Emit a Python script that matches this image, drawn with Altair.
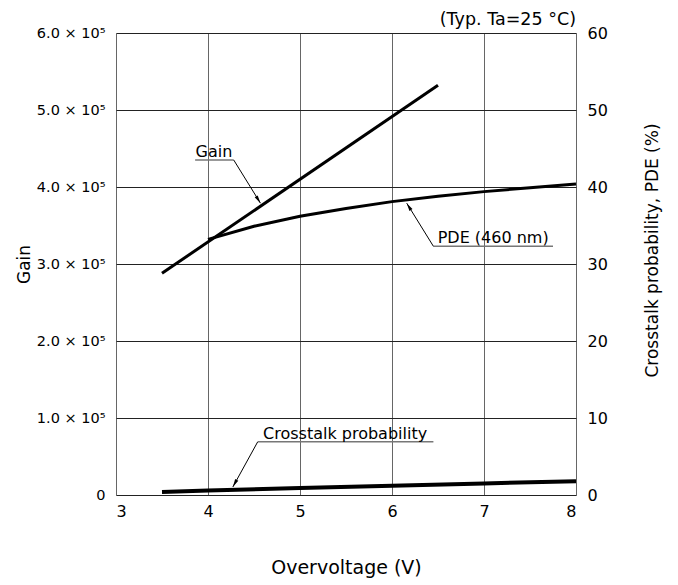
import math
import altair as alt
import pandas as pd

# ---- data ----
gain_v = [3.5, 6.5]
gain_vals = [2.88e5, 5.32e5]

pde_v = [4.0, 4.5, 5.0, 5.5, 6.0, 6.5, 7.0, 7.5, 8.0]
pde_vals = [33.2, 34.9, 36.2, 37.2, 38.1, 38.8, 39.4, 39.9, 40.4]

ct_v = [3.5, 4.0, 5.0, 6.0, 7.0, 8.0]
ct_vals = [0.4, 0.6, 0.9, 1.2, 1.5, 1.8]

# annotations (in data units: x = overvoltage, y = right-axis %)
ann_labels = ["Gain", "PDE (460 nm)", "Crosstalk probability"]
ann_tx = [4.065, 7.10, 5.49]
ann_ty = [43.9, 32.7, 7.3]
ann_ux1 = [3.86, 6.45, 4.54]
ann_ux2 = [4.28, 7.75, 6.45]
ann_uy = [43.5, 32.3, 6.9]
ann_sx = [4.28, 6.45, 4.54]
ann_sy = [43.5, 32.3, 6.9]
ann_tipx = [4.57, 6.16, 4.27]
ann_tipy = [37.9, 37.9, 1.04]

W, H = 460, 462
X_DOM = [3, 8]
YR_DOM = [0, 60]
YL_DOM = [0, 6e5]
FONT = "DejaVu Sans"

px_x = W / (X_DOM[1] - X_DOM[0])
px_y = H / (YR_DOM[1] - YR_DOM[0])
angles = []
for sx, sy, tx, ty in zip(ann_sx, ann_sy, ann_tipx, ann_tipy):
    dx = (tx - sx) * px_x
    dy = (ty - sy) * px_y
    angles.append(math.degrees(math.atan2(dx, dy)) % 360)

gain_df = pd.DataFrame({"v": gain_v, "y": gain_vals})
pde_df = pd.DataFrame({"v": pde_v, "y": pde_vals})
ct_df = pd.DataFrame({"v": ct_v, "y": ct_vals})
ann_df = pd.DataFrame({
    "label": ann_labels, "tx": ann_tx, "ty": ann_ty,
    "ux1": ann_ux1, "ux2": ann_ux2, "uy": ann_uy,
    "sx": ann_sx, "sy": ann_sy, "tipx": ann_tipx, "tipy": ann_tipy,
    "angle": angles,
})

x_axis = alt.Axis(
    values=[3, 4, 5, 6, 7, 8], format="d", title="Overvoltage (V)", grid=True,
    gridColor="#666666", gridWidth=1, ticks=False, domain=False,
    labelFont=FONT, labelFontSize=16, labelColor="#000", labelPadding=8,
    titleFont=FONT, titleFontSize=19, titleFontWeight="normal", titleColor="#000",
    titleBaseline="middle", titleY=72,
)
xs = alt.Scale(domain=X_DOM, nice=False, zero=False)
x_enc = alt.X("v:Q", scale=xs, axis=x_axis)

left_axis = alt.Axis(
    values=[0, 1e5, 2e5, 3e5, 4e5, 5e5, 6e5], orient="left",
    labelExpr="datum.value == 0 ? '0' : format(datum.value / 100000, '.1f') + ' × 10⁵'",
    grid=True, gridColor="#222222", gridWidth=1, ticks=False, domain=False,
    labelFont=FONT, labelFontSize=14.5, labelColor="#000", labelPadding=11,
    title="Gain", titleFont=FONT, titleFontSize=17, titleFontWeight="normal",
    titleColor="#000", titleBaseline="middle", titleX=-92, titleAngle=270,
)

RT = "Crosstalk probability, PDE (%)"
right_axis = alt.Axis(
    values=[0, 10, 20, 30, 40, 50, 60], orient="right", grid=False, ticks=False,
    domain=False, labelFont=FONT, labelFontSize=16, labelColor="#000", labelPadding=11,
    title=RT, titleFont=FONT, titleFontSize=17,
    titleFontWeight="normal", titleColor="#000", titleBaseline="middle",
    titleX=76, titleY=217, titleAngle=270,
)
yr_scale = alt.Scale(domain=YR_DOM, nice=False)

gain_line = alt.Chart(gain_df).mark_line(color="black", strokeWidth=3).encode(
    x=x_enc,
    y=alt.Y("y:Q", scale=alt.Scale(domain=YL_DOM, nice=False), axis=left_axis),
)

yr = alt.Y("y:Q", scale=yr_scale, axis=right_axis, title=RT)

pde_line = alt.Chart(pde_df).mark_line(color="black", strokeWidth=3).encode(x=x_enc, y=yr)
ct_line = alt.Chart(ct_df).mark_line(color="black", strokeWidth=4).encode(x=x_enc, y=yr)

base_ann = alt.Chart(ann_df)
ann_text = base_ann.mark_text(
    font=FONT, fontSize=16, color="black", align="center", baseline="alphabetic"
).encode(
    x=alt.X("tx:Q", scale=xs),
    y=alt.Y("ty:Q", scale=yr_scale, axis=right_axis, title=RT),
    text="label:N",
)
ann_under = base_ann.mark_rule(color="#777777", strokeWidth=1.5).encode(
    x=alt.X("ux1:Q", scale=xs),
    x2="ux2:Q",
    y=alt.Y("uy:Q", scale=yr_scale, axis=right_axis, title=RT),
)
ann_leader = base_ann.mark_rule(color="black", strokeWidth=1).encode(
    x=alt.X("sx:Q", scale=xs),
    x2="tipx:Q",
    y=alt.Y("sy:Q", scale=yr_scale, axis=right_axis, title=RT),
    y2="tipy:Q",
)
ann_head = base_ann.mark_point(
    shape="M0,0L-0.4,1.8L0.4,1.8Z", filled=True, color="black", size=80, opacity=1
).encode(
    x=alt.X("tipx:Q", scale=xs),
    y=alt.Y("tipy:Q", scale=yr_scale, axis=right_axis, title=RT),
    angle=alt.Angle("angle:Q", scale=None),
)

right_layer = alt.layer(pde_line, ct_line, ann_under, ann_leader, ann_head, ann_text)

chart = alt.layer(gain_line, right_layer).resolve_scale(y="independent").properties(
    width=W, height=H,
    padding={"top": 2, "left": 7, "right": 5, "bottom": 5},
    title=alt.TitleParams(
        "(Typ. Ta=25 °C)", anchor="end", frame="group", font=FONT, fontSize=17.5,
        fontWeight="normal", color="#000", offset=-3,
    ),
).configure_view(
    fill="#f7f7f0", stroke="black", strokeWidth=2.5
).configure(background="white")

chart.save("out.html", embed_options={"renderer": "svg", "actions": False})
